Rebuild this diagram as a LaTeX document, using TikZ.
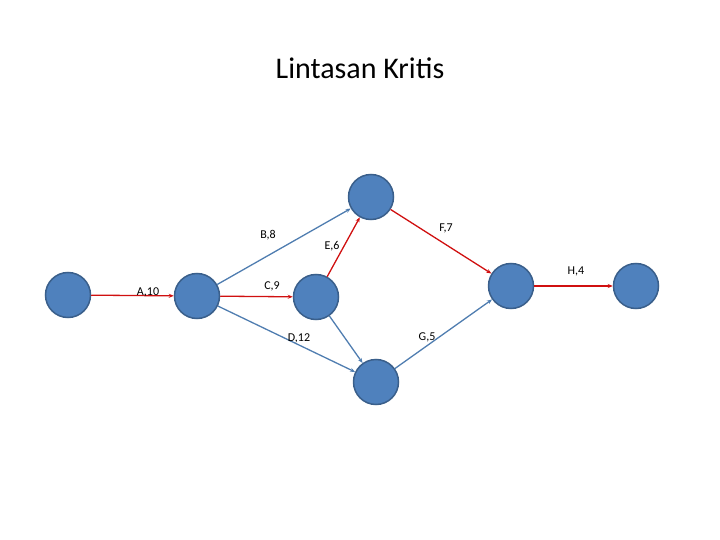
\documentclass[tikz,border=0pt]{standalone}
\usepackage{fontspec}
\setmainfont{Carlito}
\usetikzlibrary{arrows.meta}
\definecolor{nfill}{HTML}{4F81BD}
\definecolor{nline}{HTML}{3A5F8B}
\definecolor{bedge}{HTML}{4F7DB0}
\definecolor{redge}{HTML}{D01010}
\begin{document}
\begin{tikzpicture}[x=1pt,y=-1pt,
  ev/.style={circle,fill=nfill,draw=nline,line width=1.5pt,minimum size=45pt,inner sep=0pt},
  crit/.style={draw=redge,line width=1.3pt,-{Stealth[length=5pt,width=4pt]}},
  norm/.style={draw=bedge,line width=1.3pt,-{Stealth[length=5pt,width=4pt]}},
  lbl/.style={font=\fontsize{12}{14}\selectfont}]
\useasboundingbox (0,0) rectangle (720,540);
\node[font=\fontsize{30}{36}\selectfont] (title) at (360,68) {Lintasan Kritis};
\node[ev] (n1) at (68,295) {};
\node[ev] (n2) at (197,296) {};
\node[ev] (n3) at (316,297) {};
\node[ev] (n4) at (371,197) {};
\node[ev] (n5) at (511,286) {};
\node[ev] (n6) at (376,382) {};
\node[ev] (n7) at (636,286) {};
\draw[crit] (n1) -- (n2);
\draw[norm] (n2) -- (n4);
\draw[crit] (n2) -- (n3);
\draw[norm] (n2) -- (n6);
\draw[crit] (n3) -- (n4);
\draw[norm] (n3) -- (n6);
\draw[crit] (n4) -- (n5);
\draw[norm] (n6) -- (n5);
\draw[crit] (n5) -- (n7);
\node[lbl] (lA) at (148,292) {A,10};
\node[lbl] (lB) at (268,235) {B,8};
\node[lbl] (lC) at (272,286) {C,9};
\node[lbl] (lD) at (299,338) {D,12};
\node[lbl] (lE) at (332,246) {E,6};
\node[lbl] (lF) at (446,228) {F,7};
\node[lbl] (lG) at (427,337) {G,5};
\node[lbl] (lH) at (576,271) {H,4};
\end{tikzpicture}
\end{document}
